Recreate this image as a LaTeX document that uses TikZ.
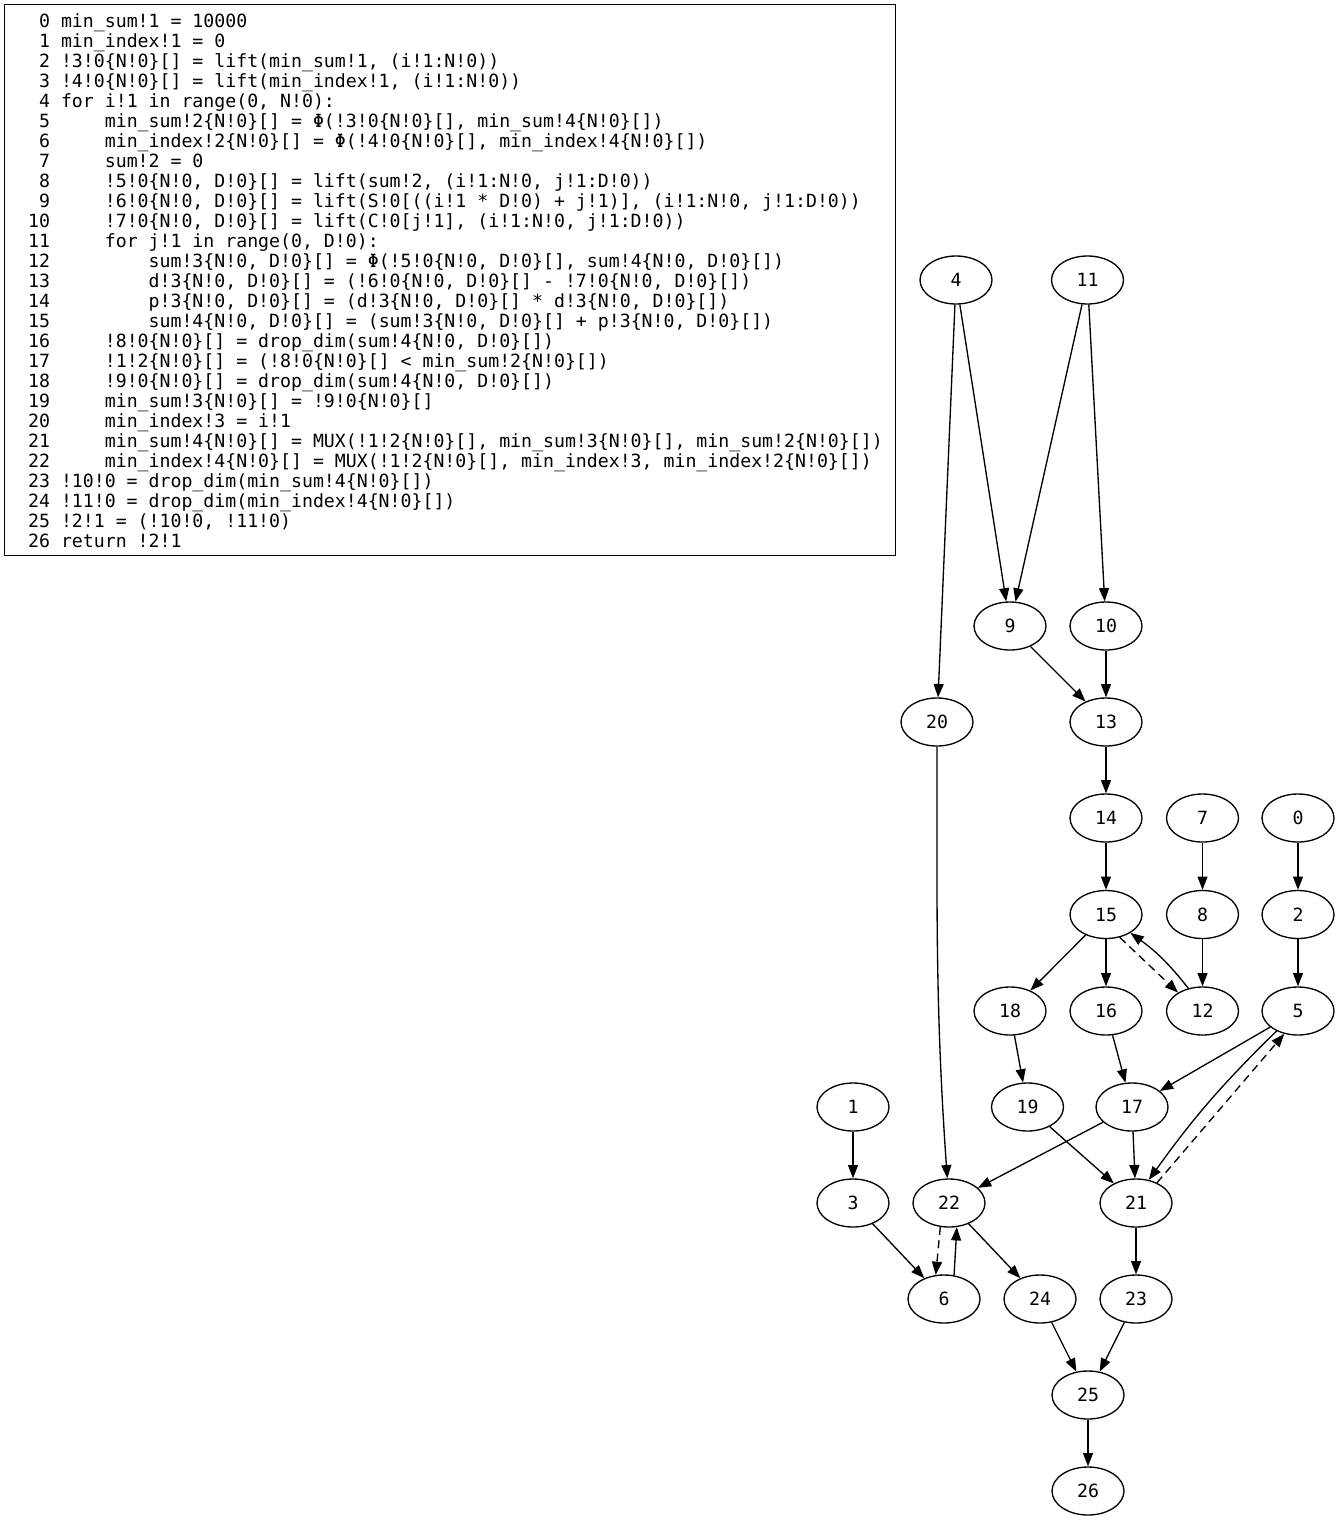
\documentclass[tikz,border=0pt]{standalone}
\usepackage{fontspec}
\setmonofont{DejaVu Sans Mono}
\usetikzlibrary{shapes.geometric,arrows.meta}
\newcommand\codefont{\fontsize{13.65pt}{15pt}\selectfont\ttfamily\frenchspacing}
\newcommand\lvA{\phantom{0000}}
\newcommand\lvB{\phantom{00000000}}
\begin{document}
\begin{tikzpicture}[x=0.75pt,y=-0.75pt,line width=1pt,
    vertex/.style={draw,ellipse,minimum width=54pt,minimum height=36pt,inner sep=0pt,
      font=\fontsize{13.65pt}{16pt}\selectfont\ttfamily},
    dashed/.style={dash pattern=on 6pt off 4pt},
    >={Triangle[length=10pt,width=7.5pt]}]
  \useasboundingbox (0,0) rectangle (1340,1521);
  \node[draw,anchor=north west,outer sep=0pt,inner sep=0pt,
    minimum width=668.25pt,minimum height=413.25pt,font=\codefont] (code) at (4.5,4.5)
    {\raisebox{-2.25pt}[\height][\depth]{\begin{tabular}{@{\phantom{0}}r@{\phantom{0}}l@{}}
      0 & min\_sum!1 = 10000\\
      1 & min\_index!1 = 0\\
      2 & !3!0\{N!0\}[] = lift(min\_sum!1, (i!1:N!0))\\
      3 & !4!0\{N!0\}[] = lift(min\_index!1, (i!1:N!0))\\
      4 & for i!1 in range(0, N!0):\\
      5 & \lvA min\_sum!2\{N!0\}[] = Φ(!3!0\{N!0\}[], min\_sum!4\{N!0\}[])\\
      6 & \lvA min\_index!2\{N!0\}[] = Φ(!4!0\{N!0\}[], min\_index!4\{N!0\}[])\\
      7 & \lvA sum!2 = 0\\
      8 & \lvA !5!0\{N!0, D!0\}[] = lift(sum!2, (i!1:N!0, j!1:D!0))\\
      9 & \lvA !6!0\{N!0, D!0\}[] = lift(S!0[((i!1 * D!0) + j!1)], (i!1:N!0, j!1:D!0))\\
      10 & \lvA !7!0\{N!0, D!0\}[] = lift(C!0[j!1], (i!1:N!0, j!1:D!0))\\
      11 & \lvA for j!1 in range(0, D!0):\\
      12 & \lvB sum!3\{N!0, D!0\}[] = Φ(!5!0\{N!0, D!0\}[], sum!4\{N!0, D!0\}[])\\
      13 & \lvB d!3\{N!0, D!0\}[] = (!6!0\{N!0, D!0\}[] - !7!0\{N!0, D!0\}[])\\
      14 & \lvB p!3\{N!0, D!0\}[] = (d!3\{N!0, D!0\}[] * d!3\{N!0, D!0\}[])\\
      15 & \lvB sum!4\{N!0, D!0\}[] = (sum!3\{N!0, D!0\}[] + p!3\{N!0, D!0\}[])\\
      16 & \lvA !8!0\{N!0\}[] = drop\_dim(sum!4\{N!0, D!0\}[])\\
      17 & \lvA !1!2\{N!0\}[] = (!8!0\{N!0\}[] < min\_sum!2\{N!0\}[])\\
      18 & \lvA !9!0\{N!0\}[] = drop\_dim(sum!4\{N!0, D!0\}[])\\
      19 & \lvA min\_sum!3\{N!0\}[] = !9!0\{N!0\}[]\\
      20 & \lvA min\_index!3 = i!1\\
      21 & \lvA min\_sum!4\{N!0\}[] = MUX(!1!2\{N!0\}[], min\_sum!3\{N!0\}[], min\_sum!2\{N!0\}[])\\
      22 & \lvA min\_index!4\{N!0\}[] = MUX(!1!2\{N!0\}[], min\_index!3, min\_index!2\{N!0\}[])\\
      23 & !10!0 = drop\_dim(min\_sum!4\{N!0\}[])\\
      24 & !11!0 = drop\_dim(min\_index!4\{N!0\}[])\\
      25 & !2!1 = (!10!0, !11!0)\\
      26 & return !2!1
    \end{tabular}}};
  \draw
    (1298,818) node[vertex] (0){0}
    (853,1107) node[vertex] (1){1}
    (1298,914.5) node[vertex] (2){2}
    (853,1203) node[vertex] (3){3}
    (956,280) node[vertex] (4){4}
    (1298,1011) node[vertex] (5){5}
    (944,1299) node[vertex] (6){6}
    (1202.5,818) node[vertex] (7){7}
    (1202.5,914.5) node[vertex] (8){8}
    (1010,626) node[vertex] (9){9}
    (1106,626) node[vertex] (10){10}
    (1087.5,280) node[vertex] (11){11}
    (1202.5,1011) node[vertex] (12){12}
    (1106,722) node[vertex] (13){13}
    (1106,818) node[vertex] (14){14}
    (1106,914.5) node[vertex] (15){15}
    (1106,1011) node[vertex] (16){16}
    (1132,1107) node[vertex] (17){17}
    (1010,1011) node[vertex] (18){18}
    (1027.5,1107) node[vertex] (19){19}
    (937,722) node[vertex] (20){20}
    (1136,1203) node[vertex] (21){21}
    (949,1203) node[vertex] (22){22}
    (1136,1299) node[vertex] (23){23}
    (1040,1299) node[vertex] (24){24}
    (1088,1395) node[vertex] (25){25}
    (1088,1491) node[vertex] (26){26};
  \begin{scope}[->]
    \draw (0) to (2);
    \draw (1) to (3);
    \draw (2) to (5);
    \draw (3) to (6);
    \draw (4) to (9);
    \draw (4) to (20);
    \draw (5) to (17);
    \draw (5.-137) to[bend right=5] (21.61);
    \draw (6.67) to (22.-72);
    \draw (7) to (8);
    \draw (8) to (12);
    \draw (9) to (13);
    \draw (10) to (13);
    \draw (11) to (9);
    \draw (11) to (10);
    \draw (12.122) to[bend right=8] (15.-37);
    \draw (13) to (14);
    \draw (14) to (15);
    \draw (15) to (16);
    \draw (15) to (18);
    \draw[dashed] (15.-59) to (12.143);
    \draw (16) to (17);
    \draw (17) to (21);
    \draw (17) to (22);
    \draw (18) to (19);
    \draw (19) to (21);
    \draw (20) to[out=-90,in=94] (22);
    \draw[dashed] (21.44) to (5.-121);
    \draw (21) to (23);
    \draw[dashed] (22.-110) to (6.109);
    \draw (22) to (24);
    \draw (23) to (25);
    \draw (24) to (25);
    \draw (25) to (26);
  \end{scope}
\end{tikzpicture}
\end{document}
